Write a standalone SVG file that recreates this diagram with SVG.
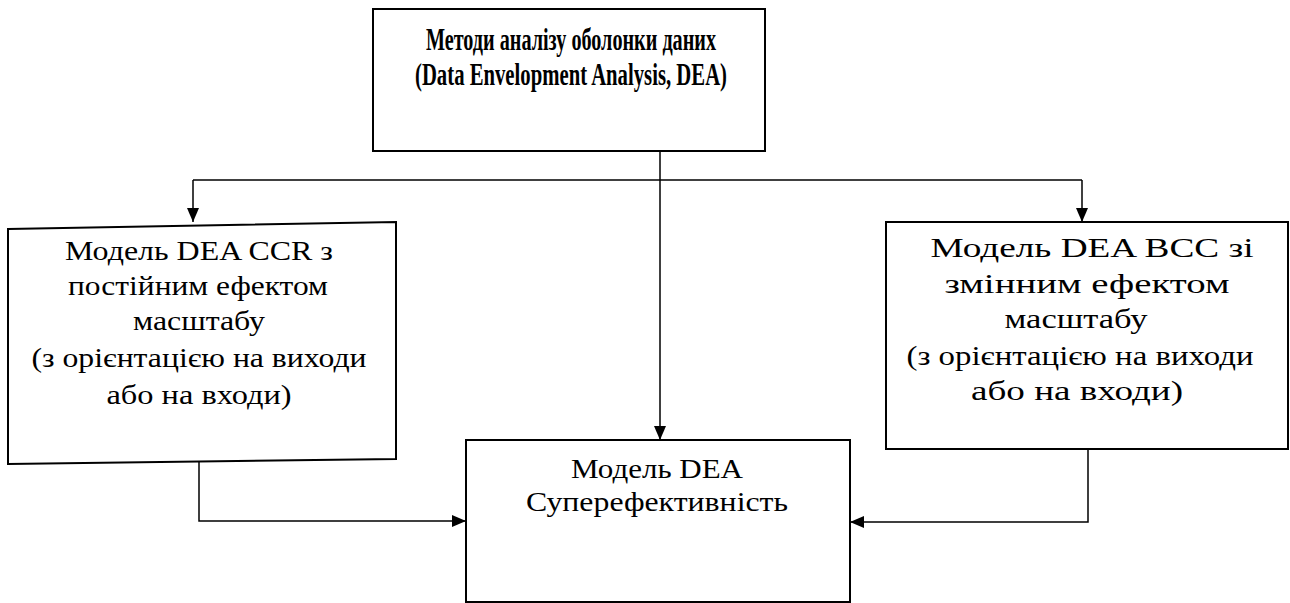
<svg xmlns="http://www.w3.org/2000/svg" width="1290" height="603" viewBox="0 0 1290 603">
<style>
.box{fill:#fff;stroke:#000;stroke-width:2}
.t{font-size:28px;fill:#000;text-anchor:middle}
.tb{font-size:31px;font-weight:bold;fill:#000;text-anchor:middle}
.c{fill:none;stroke:#000;stroke-width:1.5}
</style>
<defs>
<marker id="ah" viewBox="0 0 14 12" refX="14" refY="6" markerWidth="14" markerHeight="12" markerUnits="userSpaceOnUse" orient="auto">
<path d="M0,0 L14,6 L0,12 Z" fill="#000"/>
</marker>
</defs>
<rect width="1290" height="603" fill="#fff"/>
<g id="connectors">
<path class="c" d="M193,180 L1082,180"/>
<path class="c" d="M193,180 L193,222" marker-end="url(#ah)"/>
<path class="c" d="M1082,180 L1082,222" marker-end="url(#ah)"/>
<path class="c" d="M660,151 L660,440" marker-end="url(#ah)"/>
<path class="c" d="M199,461 L199,521 L466,521" marker-end="url(#ah)"/>
<path class="c" d="M1088,449 L1088,522 L850,522" marker-end="url(#ah)"/>
</g>
<g id="top" font-family="Liberation Serif, Times New Roman, serif">
<rect class="box" x="373" y="9" width="392" height="142"/>
<text class="tb" x="571" y="50" textLength="290" lengthAdjust="spacingAndGlyphs">Методи аналізу оболонки даних</text>
<text class="tb" x="571" y="85" textLength="312" lengthAdjust="spacingAndGlyphs">(Data Envelopment Analysis, DEA)</text>
</g>
<g id="ccr" font-family="Liberation Serif, Times New Roman, serif">
<path class="box" d="M8,229 L396,222 L396,459 L8,464 Z"/>
<text class="t" x="199" y="260" textLength="268" lengthAdjust="spacingAndGlyphs">Модель DEA CCR з</text>
<text class="t" x="198" y="295" textLength="260" lengthAdjust="spacingAndGlyphs">постійним ефектом</text>
<text class="t" x="199" y="330" textLength="132" lengthAdjust="spacingAndGlyphs">масштабу</text>
<text class="t" x="199" y="367" textLength="335" lengthAdjust="spacingAndGlyphs">(з орієнтацією на виходи</text>
<text class="t" x="199" y="404" textLength="185" lengthAdjust="spacingAndGlyphs">або на входи)</text>
</g>
<g id="bcc" font-family="Liberation Serif, Times New Roman, serif">
<rect class="box" x="886" y="222" width="402" height="227"/>
<text class="t" x="1092" y="257" textLength="323" lengthAdjust="spacingAndGlyphs">Модель DEA BCC зі</text>
<text class="t" x="1087" y="293" textLength="285" lengthAdjust="spacingAndGlyphs">змінним ефектом</text>
<text class="t" x="1076" y="328" textLength="143" lengthAdjust="spacingAndGlyphs">масштабу</text>
<text class="t" x="1080" y="365" textLength="347" lengthAdjust="spacingAndGlyphs">(з орієнтацією на виходи</text>
<text class="t" x="1077" y="400" textLength="212" lengthAdjust="spacingAndGlyphs">або на входи)</text>
</g>
<g id="super" font-family="Liberation Serif, Times New Roman, serif">
<rect class="box" x="466" y="440" width="384" height="162"/>
<text class="t" x="657" y="478" textLength="172" lengthAdjust="spacingAndGlyphs">Модель DEA</text>
<text class="t" x="657" y="511" textLength="262" lengthAdjust="spacingAndGlyphs">Суперефективність</text>
</g>
</svg>
